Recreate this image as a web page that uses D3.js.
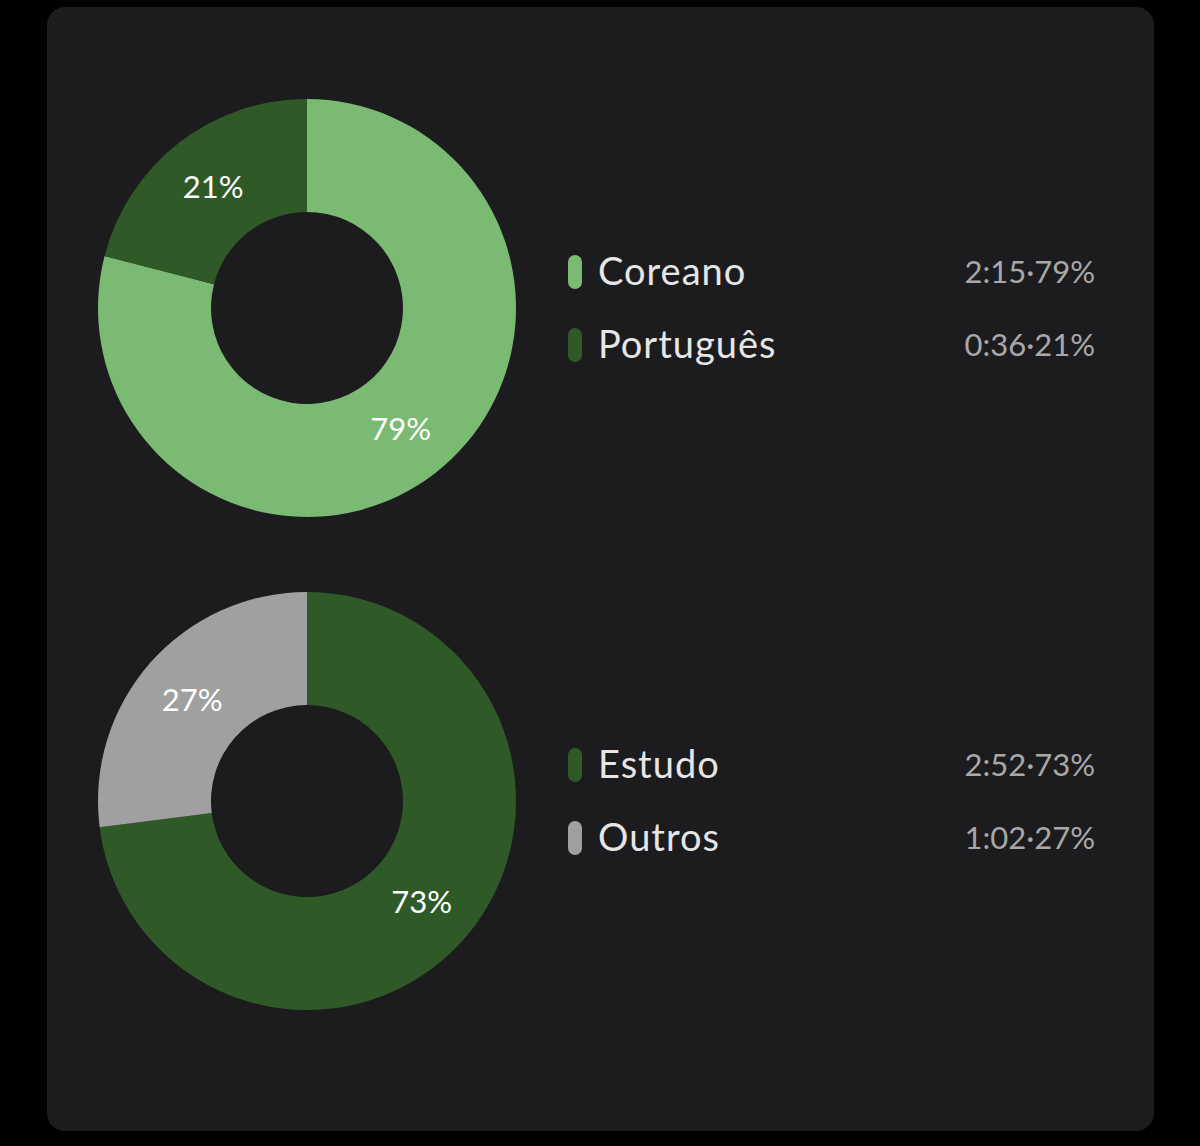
<!DOCTYPE html>
<html><head><meta charset="utf-8">
<script src="https://cdn.jsdelivr.net/npm/d3@7"></script>
<style>body{margin:0;background:#000}svg{display:block}</style>
</head><body><svg id="c" width="1200" height="1146"></svg>
<script>
const chart1Labels = ["Coreano", "Português"];
const chart1Values = [79, 21];
const chart1Times = ["2:15", "0:36"];
const chart1Colors = ["#7aba72", "#2f5a28"];
const chart2Labels = ["Estudo", "Outros"];
const chart2Values = [73, 27];
const chart2Times = ["2:52", "1:02"];
const chart2Colors = ["#2f5a28", "#a0a0a0"];

const svg = d3.select("#c");
svg.append("rect").attr("x",0).attr("y",0).attr("width",1200).attr("height",1146).attr("fill","#000");
svg.append("rect").attr("x",47).attr("y",7).attr("width",1107).attr("height",1124).attr("rx",18).attr("fill","#1c1c1e");

function donut(cy, labels, values, times, colors){
  const g = svg.append("g").attr("transform",`translate(307,${cy})`);
  const pie = d3.pie().sort(null).value(d=>d);
  const arc = d3.arc().innerRadius(96).outerRadius(209);
  const lab = d3.arc().innerRadius(153).outerRadius(153);
  const arcs = pie(values);
  g.selectAll("path").data(arcs).join("path").attr("d",arc).attr("fill",(d,i)=>colors[i]);
  g.selectAll("text").data(arcs).join("text")
    .attr("transform",d=>`translate(${lab.centroid(d)})`)
    .attr("text-anchor","middle").attr("dy","0.35em")
    .attr("fill","#fff").attr("font-family","Lato, sans-serif").attr("font-size",31)
    .text(d=>d.data+"%");
  const y = d3.scaleBand().domain(labels).range([cy-36-36, cy+37+36]).paddingInner(0).paddingOuter(0.5);
  const lg = svg.append("g");
  labels.forEach((l,i)=>{
    const yc = cy - 36 + i*73;
    lg.append("rect").attr("x",568).attr("y",yc-17).attr("width",14).attr("height",34).attr("rx",7).attr("fill",colors[i]);
    lg.append("text").attr("x",598).attr("y",yc).attr("dy","0.35em").attr("fill","#e6e6e6")
      .attr("font-family","Lato, sans-serif").attr("font-size",38).attr("letter-spacing",1).text(l);
    lg.append("text").attr("x",1095).attr("y",yc).attr("dy","0.35em").attr("text-anchor","end").attr("fill","#a8a8a8")
      .attr("font-family","Lato, sans-serif").attr("font-size",31).text(times[i]+"·"+values[i]+"%");
  });
}
donut(308, chart1Labels, chart1Values, chart1Times, chart1Colors);
donut(801, chart2Labels, chart2Values, chart2Times, chart2Colors);
</script></body></html>
